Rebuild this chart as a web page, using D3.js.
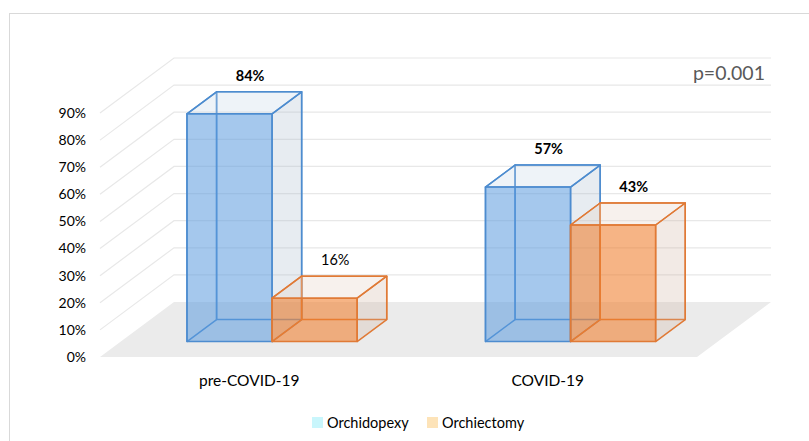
<!DOCTYPE html>
<html>
<head>
<meta charset="utf-8">
<script src="https://cdn.jsdelivr.net/npm/d3@7"></script>
<style>
  html, body { margin: 0; padding: 0; background: #fff; }
  svg { display: block; }
  text { font-family: Lato, "Open Sans", sans-serif; }
</style>
</head>
<body>
<svg id="chart" width="809" height="441"></svg>
<script>
const categories = ["pre-COVID-19", "COVID-19"];
const seriesNames = ["Orchidopexy", "Orchiectomy"];
const orchidopexy = [0.84, 0.57];
const orchiectomy = [0.16, 0.43];
const yTicks = [0, 0.1, 0.2, 0.3, 0.4, 0.5, 0.6, 0.7, 0.8, 0.9];
const labelBold = [[true, false], [true, true]];
const pValueText = "p=0.001";

const W = 809, H = 441;
const svg = d3.select("#chart");

// frame
svg.append("rect").attr("x", 9.5).attr("y", 13.5).attr("width", W).attr("height", H)
  .attr("fill", "none").attr("stroke", "#d9d9d9").attr("stroke-width", 1);

// front-plane scales + depth projection
const x0 = d3.scaleBand().domain(categories).range([100, 697]);
const x1 = d3.scaleBand().domain(seriesNames)
  .range([x0.bandwidth() * 0.222, x0.bandwidth() * 0.792]);
const y = d3.scaleLinear().domain([0, 0.9]).range([357, 113]);
const depthX = d3.scaleLinear().domain([0, 1]).range([0, 74]);
const depthY = d3.scaleLinear().domain([0, 1]).range([0, -55]);
const P = (x, v, z) => [x + depthX(z), y(v) + depthY(z)];

// floor
const floor = [P(x0.range()[0], 0, 0), P(x0.range()[1], 0, 0), P(x0.range()[1], 0, 1), P(x0.range()[0], 0, 1)];
svg.append("polygon").attr("points", floor.map(p => p.join(",")).join(" "))
  .attr("fill", "#ebebeb");

// gridlines: left wall diagonal + back wall horizontal
const grid = svg.append("g");
yTicks.filter(t => t > 0).forEach(t => {
  const a = P(x0.range()[0], t, 0), b = P(x0.range()[0], t, 1), c = P(x0.range()[1], t, 1);
  grid.append("path").attr("d", d3.line()([a, b, c]))
    .attr("fill", "none").attr("stroke", "#e8e8e8").attr("stroke-width", 1.2);
});

// y tick labels
svg.append("g").selectAll("text").data(yTicks).join("text")
  .attr("x", 86).attr("y", d => y(d)).attr("dy", "0.35em")
  .attr("text-anchor", "end").attr("font-size", 14).attr("fill", "#000")
  .text(d => d3.format(".0%")(d));

// bars
const styles = {
  "Orchidopexy": { front: "rgba(91,155,222,0.55)", side: "rgba(170,185,205,0.28)", top: "rgba(200,215,232,0.3)", stroke: "#4d8ccf" },
  "Orchiectomy": { front: "rgba(240,125,45,0.58)", side: "rgba(205,170,150,0.25)", top: "rgba(230,210,195,0.3)", stroke: "#e07a36" }
};
const z0 = 0.28, z1 = 0.68;
const values = { "Orchidopexy": orchidopexy, "Orchiectomy": orchiectomy };
const barsG = svg.append("g");
const poly = (pts) => pts.map(p => p.join(",")).join(" ");

categories.forEach((cat, ci) => {
  seriesNames.forEach((s, si) => {
    const v = values[s][ci];
    const xa = x0(cat) + x1(s), xb = xa + x1.bandwidth();
    const st = styles[s];
    const g = barsG.append("g");
    const common = el => el.attr("stroke", st.stroke).attr("stroke-width", 1.5).attr("stroke-linejoin", "round");
    // back face, left face (edges only)
    common(g.append("polygon").attr("points", poly([P(xa, 0, z1), P(xb, 0, z1), P(xb, v, z1), P(xa, v, z1)])).attr("fill", "none"));
    common(g.append("polygon").attr("points", poly([P(xa, 0, z0), P(xa, 0, z1), P(xa, v, z1), P(xa, v, z0)])).attr("fill", "none"));
    // right face
    common(g.append("polygon").attr("points", poly([P(xb, 0, z0), P(xb, 0, z1), P(xb, v, z1), P(xb, v, z0)])).attr("fill", st.side));
    // top face
    common(g.append("polygon").attr("points", poly([P(xa, v, z0), P(xb, v, z0), P(xb, v, z1), P(xa, v, z1)])).attr("fill", st.top));
    // front face
    common(g.append("polygon").attr("points", poly([P(xa, 0, z0), P(xb, 0, z0), P(xb, v, z0), P(xa, v, z0)])).attr("fill", st.front));
    // value label
    const c = P((xa + xb) / 2, v, z1);
    svg.append("text").attr("x", c[0] - 9).attr("y", c[1] - 11)
      .attr("text-anchor", "middle").attr("font-size", 14.5)
      .attr("font-weight", labelBold[ci][si] ? "bold" : "normal")
      .attr("fill", "#000").text(d3.format(".0%")(v));
  });
});

// category labels
svg.append("g").selectAll("text").data(categories).join("text")
  .attr("x", d => x0(d) + x0.bandwidth() / 2).attr("y", 386)
  .attr("text-anchor", "middle").attr("font-size", 15.5).attr("fill", "#000")
  .text(d => d);

// p-value
svg.append("text").attr("x", 765).attr("y", 80).attr("text-anchor", "end")
  .attr("font-size", 19.5).attr("fill", "#595959").text(pValueText);

// legend
const legendColors = ["#c9f6fc", "#fde3b8"];
const legendX = [312, 427];
const lg = svg.append("g");
seriesNames.forEach((s, i) => {
  lg.append("rect").attr("x", legendX[i]).attr("y", 417).attr("width", 11).attr("height", 11).attr("fill", legendColors[i]);
  lg.append("text").attr("x", legendX[i] + 15).attr("y", 423).attr("dy", "0.35em")
    .attr("font-size", 14.5).attr("fill", "#000").text(s);
});
</script>
</body>
</html>
